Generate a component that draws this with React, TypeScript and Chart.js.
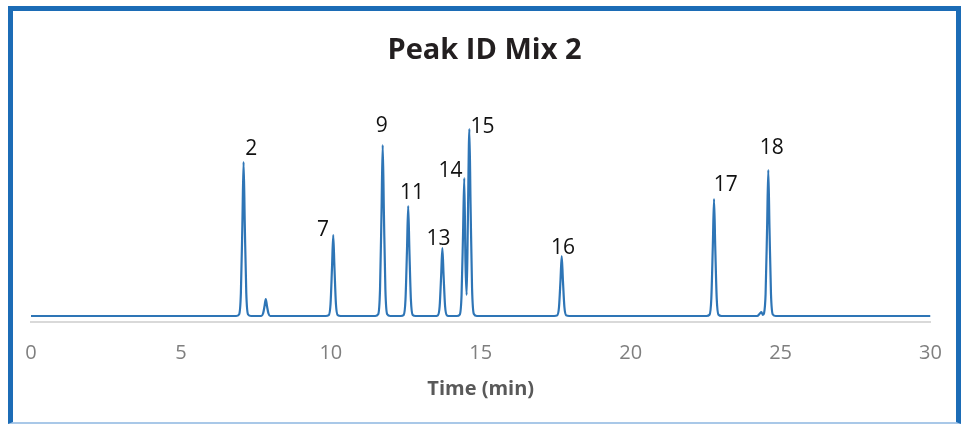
import { useEffect, useRef } from "react";
import { Chart, registerables } from "chart.js";

Chart.register(...registerables);

// Chromatogram trace (time in min, detector signal in arbitrary units)
const traceTimes = [
  0,
  6.84, 6.94, 7.0, 7.05, 7.09, 7.13, 7.18, 7.24, 7.34,
  7.68, 7.74, 7.79, 7.83, 7.87, 7.92, 7.98,
  9.83, 9.93, 9.99, 10.04, 10.08, 10.12, 10.17, 10.23, 10.33,
  11.48, 11.58, 11.64, 11.69, 11.73, 11.77, 11.82, 11.88, 11.98,
  12.33, 12.43, 12.49, 12.54, 12.58, 12.62, 12.67, 12.73, 12.83,
  13.47, 13.57, 13.63, 13.68, 13.72, 13.76, 13.81, 13.87, 13.97,
  14.2, 14.3, 14.36, 14.41, 14.45, 14.49, 14.53, 14.57, 14.62, 14.66, 14.71, 14.77, 14.87,
  17.45, 17.55, 17.61, 17.66, 17.7, 17.74, 17.79, 17.85, 17.95,
  22.53, 22.63, 22.69, 22.74, 22.78, 22.82, 22.87, 22.93, 23.03,
  24.22, 24.31, 24.36, 24.41, 24.45, 24.5, 24.55, 24.59, 24.63, 24.68, 24.74, 24.84,
  30,
];
const traceSignal = [
  6,
  6, 7.5, 29, 98, 160, 98, 29, 7.5, 6,
  6, 8.5, 16, 23, 16, 8.5, 6,
  6, 6.8, 18, 55, 87, 55, 18, 6.8, 6,
  6, 7.7, 32, 109, 177, 109, 32, 7.7, 6,
  6, 7.1, 22.5, 72, 116, 72, 22.5, 7.1, 6,
  6, 6.7, 16, 47, 74, 47, 16, 6.7, 6,
  6, 7.4, 27, 89, 144, 60, 27, 100, 193, 118, 34, 8, 6,
  6, 6.6, 15, 42, 66, 42, 15, 6.6, 6,
  6, 7.2, 23.5, 76, 123, 76, 23.5, 7.2, 6,
  6, 8.5, 10, 7, 9, 28, 94, 152, 94, 28, 7.5, 6,
  6,
];

// Peak annotations
const peakLabels = ["2", "7", "9", "11", "13", "14", "15", "16", "17", "18"];
const peakTimes = [7.09, 10.08, 11.73, 12.58, 13.72, 14.45, 14.62, 17.7, 22.78, 24.59];
const peakHeights = [160, 87, 177, 116, 74, 144, 193, 66, 123, 152];

const chartTitle = "Peak ID Mix 2";
const xAxisTitle = "Time (min)";
const xMin = 0;
const xMax = 30;
const xStep = 5;

// label offsets from the apex, in pixels (style only)
const labelOffsets: [number, number][] = [
  [7.7, -12.7],
  [-10.3, -5],
  [-1, -18.5],
  [3.7, -12.7],
  [-3.8, -9.3],
  [-13.8, -7.3],
  [13.2, -1.5],
  [1.3, -8.2],
  [11.7, -14.3],
  [3.4, -22],
];

export default function App() {
  const ref = useRef<HTMLCanvasElement>(null);

  useEffect(() => {
    if (!ref.current) return;
    const annotate = {
      id: "annotate",
      afterDatasetsDraw(chart: any) {
        const { ctx } = chart;
        const x = chart.scales.x;
        const y = chart.scales.y;
        ctx.save();
        ctx.textAlign = "center";
        ctx.textBaseline = "middle";
        ctx.fillStyle = "#111111";
        ctx.font = '21px "Open Sans"';
        peakLabels.forEach((l, i) => {
          ctx.fillText(
            l,
            x.getPixelForValue(peakTimes[i]) + labelOffsets[i][0],
            y.getPixelForValue(peakHeights[i]) + labelOffsets[i][1]
          );
        });
        ctx.fillStyle = "#231f20";
        ctx.font = 'bold 29px "Open Sans"';
        ctx.fillText(chartTitle, 484.5, 51);
        ctx.restore();
      },
    };

    const chart = new Chart(ref.current, {
      type: "line",
      data: {
        datasets: [
          {
            data: traceTimes.map((t, i) => ({ x: t, y: traceSignal[i] })),
            borderColor: "#2e75b6",
            borderWidth: 2.2,
            pointRadius: 0,
            fill: false,
            cubicInterpolationMode: "monotone",
          },
        ],
      },
      options: {
        animation: false,
        responsive: true,
        maintainAspectRatio: false,
        layout: { padding: { left: 31, right: 34.5, top: 122, bottom: 22 } },
        plugins: {
          legend: { display: false },
          tooltip: { enabled: false },
          title: { display: false },
        },
        scales: {
          x: {
            type: "linear",
            min: xMin,
            max: xMax,
            grid: { display: false, drawTicks: false },
            border: { display: true, color: "#d9d9d9", width: 2 },
            ticks: {
              stepSize: xStep,
              color: "#7f7f7f",
              font: { family: "Open Sans", size: 20 },
              padding: 19,
              maxRotation: 0,
            },
            title: {
              display: true,
              text: xAxisTitle,
              color: "#595959",
              font: { family: "Open Sans", size: 20, weight: "bold" },
              padding: { top: 0, bottom: 1 },
            },
            afterFit: (scale: any) => {
              scale.height = 80;
            },
          },
          y: {
            display: false,
            min: 0,
            max: 200,
          },
        },
      },
      plugins: [annotate],
    });
    return () => chart.destroy();
  }, []);

  return (
    <div style={{ position: "absolute", left: 0, top: 0, width: 965, height: 424, background: "#fff" }}>
      <canvas ref={ref} style={{ position: "absolute", left: 0, top: 0 }} />
      <div
        style={{
          position: "absolute",
          left: 8,
          top: 6,
          width: 943,
          height: 411,
          borderTop: "5px solid #1c6cb6",
          borderLeft: "5px solid #1c6cb6",
          borderRight: "5px solid #1c6cb6",
          borderBottom: "2px solid #a9c8e8",
          pointerEvents: "none",
        }}
      />
    </div>
  );
}
